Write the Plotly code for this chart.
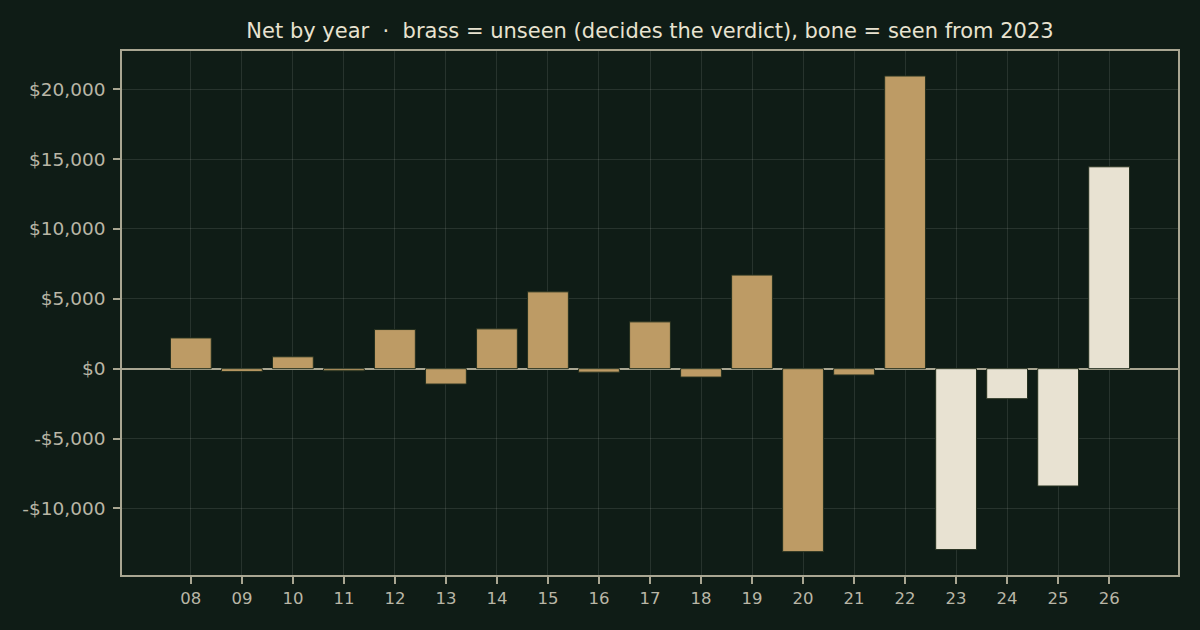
import plotly.graph_objects as go

# Netto pro Jahr
years = ["08", "09", "10", "11", "12", "13", "14", "15", "16", "17",
         "18", "19", "20", "21", "22", "23", "24", "25", "26"]
net = [2200, -200, 850, -150, 2800, -1100, 2850, 5500, -250, 3350,
       -600, 6700, -13100, -450, 20950, -12950, -2150, -8400, 14450]
seen_from = "23"

y_ticks = [-10000, -5000, 0, 5000, 10000, 15000, 20000]
y_labels = ["-$10,000", "-$5,000", "$0", "$5,000", "$10,000", "$15,000", "$20,000"]

BG = "#0f1c16"
BRASS = "#bd9b65"
BONE = "#e8e2d2"
SPINE = "#a9a692"
TEXT = "#b9b6a6"
GRID = "rgba(255,255,255,0.10)"

colors = [BONE if y >= seen_from else BRASS for y in years]

fig = go.Figure()

fig.add_trace(go.Bar(
    x=years,
    y=net,
    width=0.8,
    marker=dict(color=colors, line=dict(color="#25301f", width=1)),
    showlegend=False,
))

fig.update_layout(
    width=1200,
    height=630,
    paper_bgcolor=BG,
    plot_bgcolor=BG,
    margin=dict(l=122, r=22, t=51, b=55),
    font=dict(family="DejaVu Sans", color=TEXT, size=16),
    title=dict(
        text="Net by year  ·  brass = unseen (decides the verdict), bone = seen from 2023",
        x=(122 + 1178) / 2 / 1200,
        xanchor="center",
        y=1 - 31 / 630,
        yanchor="middle",
        font=dict(size=21, color="#e8e2d0"),
    ),
    bargap=0.2,
)

# Achsen
fig.update_xaxes(
    type="category",
    range=[-1.35, 19.35],
    showline=True, linecolor=SPINE, linewidth=1.5, mirror=True,
    ticks="outside", ticklen=7, tickwidth=1.5, tickcolor=SPINE,
    showgrid=True, gridcolor=GRID, gridwidth=1,
    layer="above traces",
    tickfont=dict(size=16.5, color=TEXT),
)

fig.update_yaxes(
    range=[-14770, 22740],
    tickvals=y_ticks,
    ticktext=y_labels,
    showline=True, linecolor=SPINE, linewidth=1.5, mirror=True,
    ticks="outside", ticklen=7, tickwidth=1.5, tickcolor=SPINE,
    ticklabelstandoff=4,
    showgrid=True, gridcolor=GRID, gridwidth=1,
    zeroline=True, zerolinecolor=SPINE, zerolinewidth=2,
    layer="above traces",
    tickfont=dict(size=18.5, color=TEXT),
)

# Seitenrand entfernen, damit die Figur exakt das Fenster füllt
fig.write_html(
    "out.html",
    config={"displayModeBar": False},
    post_script="document.body.style.margin='0';document.body.style.overflow='hidden';",
)
